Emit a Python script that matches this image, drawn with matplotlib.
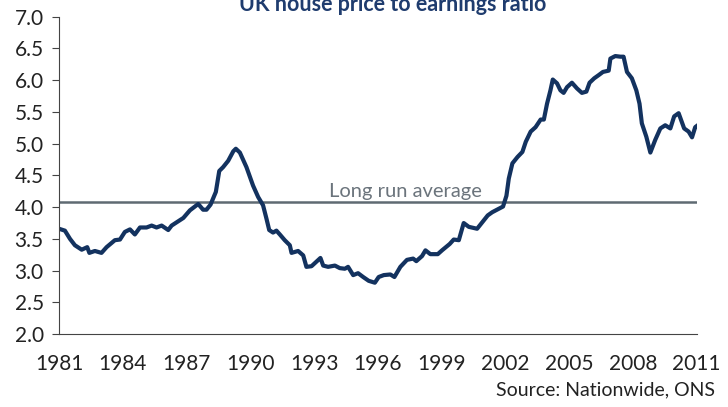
import matplotlib.pyplot as plt

plt.rcParams['font.family'] = ['Lato', 'DejaVu Sans']

# decimal years and house price / earnings ratio
years = [1981.00, 1981.28, 1981.52, 1981.75, 1982.07, 1982.33, 1982.43, 1982.69,
         1983.00, 1983.24, 1983.63, 1983.87, 1984.10, 1984.34, 1984.57, 1984.81,
         1985.12, 1985.36, 1985.59, 1985.83, 1986.14, 1986.30, 1986.53, 1986.85,
         1987.16, 1987.55, 1987.78, 1987.94, 1988.13, 1988.38, 1988.54, 1988.72,
         1988.96, 1989.20, 1989.32, 1989.51, 1989.82, 1990.13, 1990.37, 1990.60,
         1990.76, 1990.89, 1991.07, 1991.23, 1991.39, 1991.62, 1991.86, 1991.94,
         1992.25, 1992.49, 1992.64, 1992.88, 1993.11, 1993.30, 1993.43, 1993.66,
         1993.98, 1994.21, 1994.45, 1994.60, 1994.84, 1995.07, 1995.31, 1995.57,
         1995.86, 1996.04, 1996.28, 1996.59, 1996.78, 1997.06, 1997.37, 1997.66,
         1997.81, 1998.08, 1998.24, 1998.47, 1998.82, 1999.02, 1999.38, 1999.57,
         1999.81, 2000.04, 2000.28, 2000.67, 2000.91, 2001.17, 2001.38, 2001.61,
         2001.89, 2002.05, 2002.16, 2002.33, 2002.57, 2002.80, 2002.96, 2003.19,
         2003.42, 2003.66, 2003.81, 2003.96, 2004.12, 2004.23, 2004.43, 2004.59,
         2004.74, 2004.90, 2005.13, 2005.37, 2005.60, 2005.81, 2005.96, 2006.18,
         2006.39, 2006.59, 2006.86, 2006.94, 2007.17, 2007.41, 2007.56, 2007.72,
         2007.95, 2008.16, 2008.31, 2008.42, 2008.63, 2008.82, 2009.05, 2009.29,
         2009.52, 2009.76, 2009.94, 2010.15, 2010.41, 2010.62, 2010.78, 2010.93,
         2011.01]
ratio = [3.66, 3.63, 3.50, 3.40, 3.33, 3.37, 3.28, 3.31,
         3.28, 3.37, 3.48, 3.49, 3.61, 3.65, 3.57, 3.68,
         3.68, 3.71, 3.68, 3.71, 3.64, 3.71, 3.76, 3.83,
         3.95, 4.05, 3.96, 3.96, 4.04, 4.24, 4.57, 4.63,
         4.73, 4.88, 4.92, 4.86, 4.63, 4.34, 4.16, 4.03,
         3.82, 3.64, 3.60, 3.63, 3.57, 3.48, 3.40, 3.28,
         3.31, 3.24, 3.06, 3.07, 3.14, 3.20, 3.08, 3.06,
         3.08, 3.04, 3.03, 3.06, 2.93, 2.96, 2.90, 2.84,
         2.81, 2.90, 2.93, 2.94, 2.90, 3.06, 3.17, 3.19,
         3.15, 3.23, 3.32, 3.26, 3.26, 3.32, 3.42, 3.49,
         3.48, 3.75, 3.69, 3.66, 3.76, 3.87, 3.92, 3.96,
         4.01, 4.18, 4.45, 4.69, 4.79, 4.87, 5.03, 5.19,
         5.26, 5.38, 5.38, 5.63, 5.84, 6.01, 5.95, 5.84,
         5.80, 5.89, 5.96, 5.87, 5.80, 5.82, 5.96, 6.03,
         6.08, 6.13, 6.15, 6.34, 6.38, 6.37, 6.37, 6.13,
         6.03, 5.84, 5.63, 5.32, 5.11, 4.86, 5.06, 5.24,
         5.29, 5.24, 5.43, 5.48, 5.24, 5.19, 5.10, 5.26,
         5.28]
long_run_avg = 4.08
xticks = [1981, 1984, 1987, 1990, 1993, 1996, 1999, 2002, 2005, 2008, 2011]
yticks = [2.0, 2.5, 3.0, 3.5, 4.0, 4.5, 5.0, 5.5, 6.0, 6.5, 7.0]

fig = plt.figure(figsize=(7.28, 4.07), dpi=100)
ax = fig.add_axes([0.081, 0.179, 0.876, 0.78])

ax.axhline(long_run_avg, color='#5f6a72', lw=1.8, zorder=1)
ax.plot(years, ratio, color='#13325f', lw=3.0, zorder=2)
ax.text(1993.7, long_run_avg + 0.03, 'Long run average', color='#6b747c',
        fontsize=14.5, ha='left', va='bottom')

ax.set_xlim(1981, 2011)
ax.set_ylim(2.0, 7.0)
ax.set_xticks(xticks)
ax.set_yticks(yticks)
ax.set_yticklabels([f'{v:.1f}' for v in yticks])
ax.tick_params(axis='y', labelsize=15, length=5, color='#444444', pad=6,
               labelcolor='#222222')
ax.tick_params(axis='x', labelsize=15, length=0, pad=14, labelcolor='#222222')

for s in ['top', 'right']:
    ax.spines[s].set_visible(False)
ax.spines['left'].set_color('#444444')
ax.spines['bottom'].set_color('#444444')

fig.text(0.54, 1 - 11 / 407, 'UK house price to earnings ratio', color='#1f3c6e',
         fontsize=15.5, fontweight='bold', ha='center', va='baseline')
fig.text(0.982, 0.02, 'Source: Nationwide, ONS', fontsize=14, ha='right',
         va='bottom', color='#222222')

fig.savefig('out.png', dpi=100)
